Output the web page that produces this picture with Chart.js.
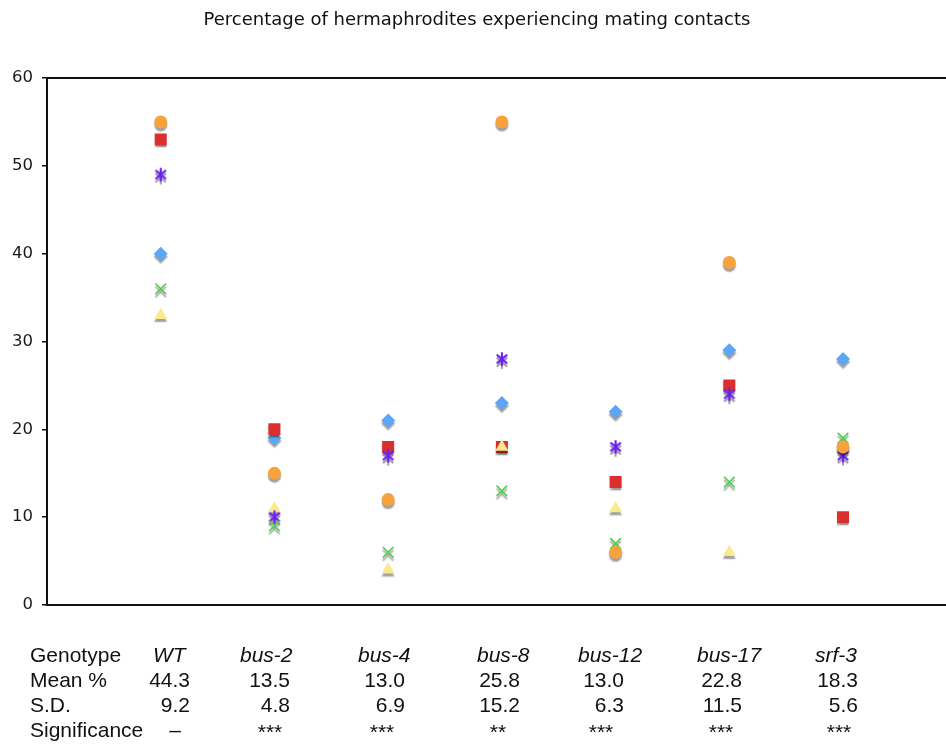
<!DOCTYPE html>
<html lang="en">
<head>
    <meta charset="UTF-8">
    <title>Mating contacts</title>
    <script src="https://cdn.jsdelivr.net/npm/chart.js"></script>
    <style>
        html, body { margin: 0; padding: 0; background: #fff; overflow: hidden; }
        #wrap { position: relative; width: 946px; height: 745px; overflow: hidden; }
    </style>
</head>
<body>
    <div id="wrap">
        <canvas id="matingChart" width="958" height="745"></canvas>
    </div>
    <script>
        // genotypes along the x axis (positions 1..7)
        const genotypes = ['WT', 'bus-2', 'bus-4', 'bus-8', 'bus-12', 'bus-17', 'srf-3'];

        // one value per genotype for each replicate series
        const orangeVals = [55, 15, 12, 55, 6, 39, 18];
        const greenVals  = [36, 9, 6, 13, 7, 14, 19];
        const purpleVals = [49, 10, 17, 28, 18, 24, 17];
        const yellowVals = [33, 11, 4, 18, 11, 6, 18];
        const redVals    = [53, 20, 18, 18, 14, 25, 10];
        const blueVals   = [40, 19, 21, 23, 22, 29, 28];

        const yTicks = [0, 10, 20, 30, 40, 50, 60];

        // table under the chart
        const meanRow = ['44.3', '13.5', '13.0', '25.8', '13.0', '22.8', '18.3'];
        const sdRow   = ['9.2', '4.8', '6.9', '15.2', '6.3', '11.5', '5.6'];
        const sigRow  = ['–', '***', '***', '**', '***', '***', '***'];

        function toPoints(vals) {
            return vals.map((v, i) => ({ x: i + 1, y: v }));
        }

        // six-armed asterisk marker
        function makeAsterisk(color) {
            const c = document.createElement('canvas');
            c.width = 16; c.height = 16;
            const g = c.getContext('2d');
            g.strokeStyle = color;
            g.lineWidth = 2.1;
            g.lineCap = 'butt';
            [90, 40, 140].forEach(deg => {
                const a = deg * Math.PI / 180;
                const dx = Math.cos(a) * 6.8, dy = Math.sin(a) * 6.8;
                g.beginPath();
                g.moveTo(8 - dx, 8 - dy);
                g.lineTo(8 + dx, 8 + dy);
                g.stroke();
            });
            return c;
        }

        const series = [
            { vals: orangeVals, style: 'circle',   color: '#F8A23C', r: 6.5 },
            { vals: greenVals,  style: 'crossRot', color: '#4CD14F', r: 7.5 },
            { vals: purpleVals, style: makeAsterisk('#6A22F0'), color: '#6A22F0', r: 7 },
            { vals: yellowVals, style: 'triangle', color: '#FBEA8C', r: 7.5 },
            { vals: redVals,    style: 'rect',     color: '#DA2F2C', r: 8.5 },
            { vals: blueVals,   style: 'rectRot',  color: '#5BA6F7', r: 7 }
        ];

        // soft grey drop shadow under every marker
        const shadowPlugin = {
            id: 'shadow',
            beforeDatasetsDraw(chart) {
                const ctx = chart.ctx;
                ctx.save();
                ctx.shadowColor = 'rgba(0,0,0,0.38)';
                ctx.shadowOffsetY = 3;
                ctx.shadowBlur = 1.5;
            },
            afterDatasetsDraw(chart) {
                chart.ctx.restore();
            }
        };

        // title, top frame line and the stats table
        const textPlugin = {
            id: 'texts',
            afterDraw(chart) {
                const ctx = chart.ctx;
                const a = chart.chartArea;
                ctx.save();
                ctx.strokeStyle = '#111';
                ctx.lineWidth = 2;
                ctx.beginPath();
                ctx.moveTo(a.left, a.top);
                ctx.lineTo(a.right, a.top);
                ctx.stroke();

                ctx.fillStyle = '#111';
                ctx.textBaseline = 'middle';
                ctx.textAlign = 'center';
                ctx.font = '18px "DejaVu Sans"';
                ctx.fillText('Percentage of hermaphrodites experiencing mating contacts', 477, 20);

                const rowY = [656, 681, 706, 731];
                ctx.font = '21px "Liberation Sans"';
                ctx.textAlign = 'left';
                ctx.fillText('Genotype', 30, rowY[0]);
                ctx.fillText('Mean %', 30, rowY[1]);
                ctx.fillText('S.D.', 30, rowY[2]);
                ctx.fillText('Significance', 30, rowY[3]);

                const genoLeft = [153, 240, 358, 477, 578, 697, 815];
                const numRight = [190, 290, 405, 520, 624, 742, 858];
                const sigMid   = [175, 270, 382, 498, 601, 721, 839];
                ctx.font = 'italic 21px "Liberation Sans"';
                genotypes.forEach((g, i) => ctx.fillText(g, genoLeft[i], rowY[0]));
                ctx.font = '21px "Liberation Sans"';
                ctx.textAlign = 'right';
                meanRow.forEach((m, i) => ctx.fillText(m, numRight[i], rowY[1]));
                sdRow.forEach((s, i) => ctx.fillText(s, numRight[i], rowY[2]));
                ctx.textAlign = 'center';
                sigRow.forEach((s, i) => {
                    ctx.fillText(s, sigMid[i], rowY[3] + (i === 0 ? 0 : 2));
                });
                ctx.restore();
            }
        };

        new Chart(document.getElementById('matingChart'), {
            type: 'scatter',
            data: {
                datasets: series.map(s => ({
                    data: toPoints(s.vals),
                    pointStyle: s.style,
                    radius: s.r,
                    hoverRadius: s.r,
                    backgroundColor: s.color,
                    borderColor: s.color,
                    borderWidth: (s.style === 'crossRot') ? 1.7 : 0
                }))
            },
            options: {
                responsive: false,
                animation: false,
                layout: { padding: { top: 78, bottom: 140, left: 0, right: 0 } },
                plugins: {
                    legend: { display: false },
                    title: { display: false },
                    tooltip: { enabled: false }
                },
                scales: {
                    x: {
                        type: 'linear',
                        min: 0,
                        max: 7.93,
                        ticks: { display: false },
                        grid: { display: false },
                        border: { display: true, color: '#111', width: 2 },
                        afterFit(scale) { scale.height = 0; }
                    },
                    y: {
                        min: 0,
                        max: 60,
                        afterBuildTicks(scale) { scale.ticks = yTicks.map(v => ({ value: v })); },
                        ticks: {
                            color: '#1a1a1a',
                            padding: 9,
                            font: { family: 'DejaVu Sans', size: 16.5 }
                        },
                        grid: { drawOnChartArea: false, drawTicks: true, tickLength: 5, color: '#111', lineWidth: 1.5 },
                        border: { display: true, color: '#111', width: 2 },
                        afterFit(scale) { scale.width = 47; }
                    }
                }
            },
            plugins: [shadowPlugin, textPlugin]
        });
    </script>
</body>
</html>
